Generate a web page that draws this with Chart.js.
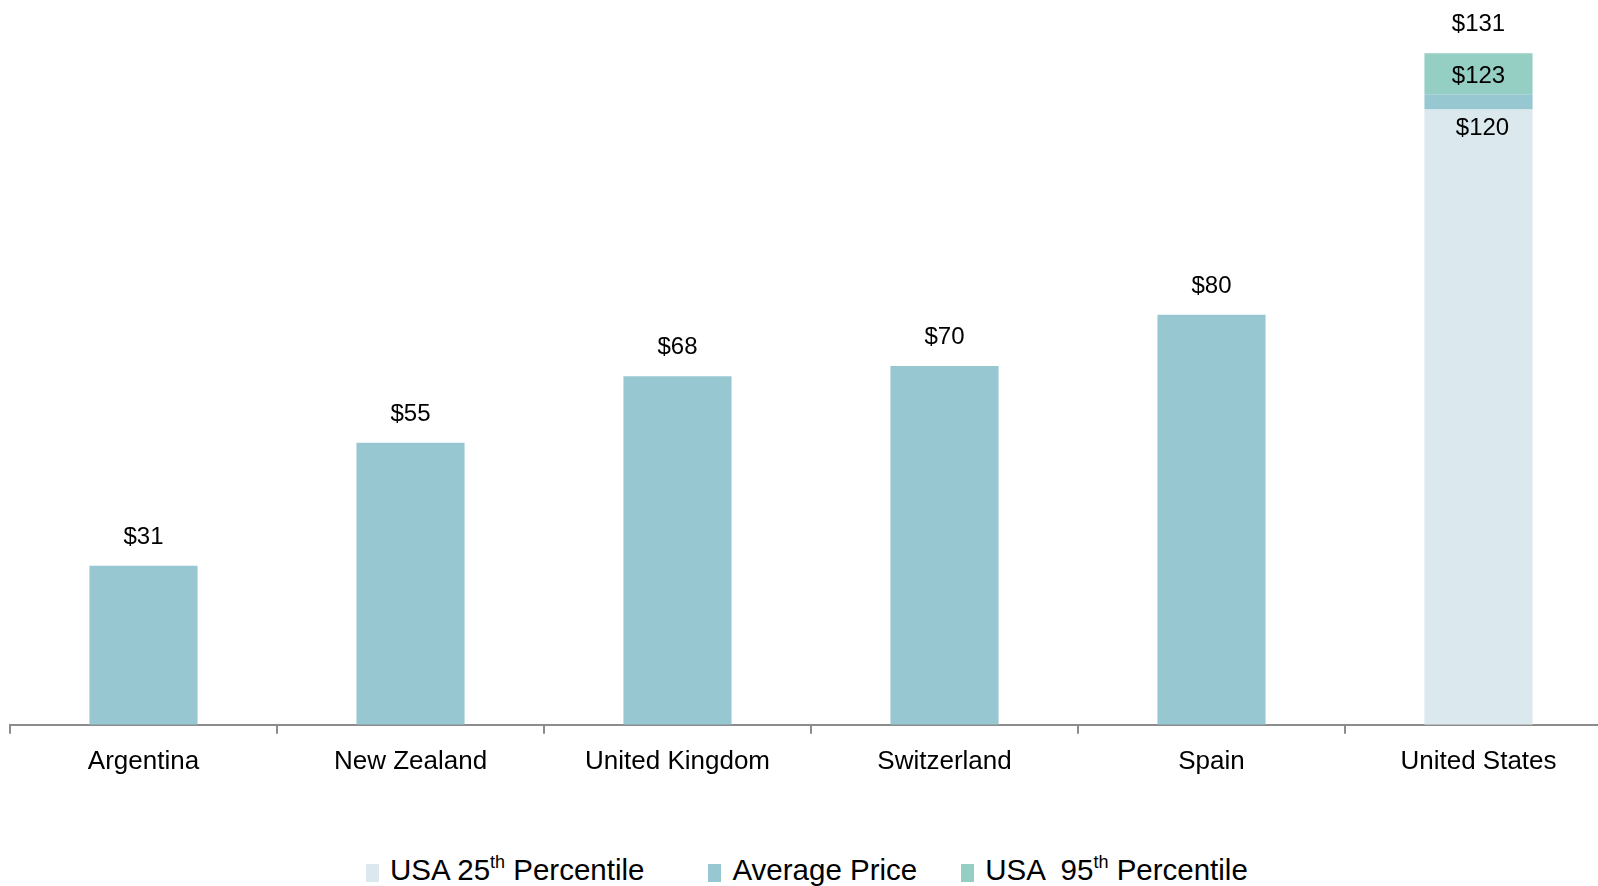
<!DOCTYPE html>
<html>
<head>
<meta charset="utf-8">
<script src="https://cdn.jsdelivr.net/npm/chart.js@4.4.0/dist/chart.umd.min.js"></script>
<style>
  html, body { margin: 0; padding: 0; background: #fff; overflow: hidden; }
  #wrap { position: relative; width: 1598px; height: 886px; overflow: hidden; }
  #box { position: absolute; left: 0; top: 0; width: 1622px; height: 800px; }
  #legend {
    position: absolute; left: 366px; top: 853px; display: flex; align-items: center;
    font-family: "Liberation Sans", Arial, sans-serif; font-size: 29.5px; color: #000; white-space: pre;
  }
  #legend .item { display: flex; align-items: center; }
  #legend .sw { width: 13px; height: 18px; margin-right: 11px; margin-top: 6px; }
  #legend sup { font-size: 18px; line-height: 0; vertical-align: 12px; }
</style>
</head>
<body>
<div id="wrap">
  <div id="box"><canvas id="chart"></canvas></div>
  <div id="legend"></div>
</div>
<script>
// DATA
const categories = ['Argentina', 'New Zealand', 'United Kingdom', 'Switzerland', 'Spain', 'United States'];
const averagePrice = [31, 55, 68, 70, 80, 123];
const usa25th = [null, null, null, null, null, 120];
const usa95th = [null, null, null, null, null, 131];
const seriesLabels = ['USA 25th Percentile', 'Average Price', 'USA  95th Percentile'];
const seriesColors = ['#dbe9ef', '#97c8d2', '#95cec2'];
const gapAfter = [64, 44, 0];

// stacked segments built from the values above
const seg25 = usa25th.map(v => v == null ? null : v);
const segAvg = averagePrice.map((v, i) => usa25th[i] == null ? v : v - usa25th[i]);
const seg95 = usa95th.map((v, i) => v == null ? null : v - averagePrice[i]);

const FONT = '"Liberation Sans", Arial, sans-serif';

// value labels
const valueLabels = {
  id: 'valueLabels',
  afterDatasetsDraw(chart) {
    const c = chart.ctx, y = chart.scales.y;
    c.save();
    c.font = '24px ' + FONT;
    c.fillStyle = '#000';
    c.textAlign = 'center';
    c.textBaseline = 'alphabetic';
    categories.forEach((cat, i) => {
      const x = chart.getDatasetMeta(1).data[i].x;
      if (usa95th[i] != null) {
        c.fillText('$' + usa95th[i], x, y.getPixelForValue(usa95th[i]) - 22);
        const mid = (y.getPixelForValue(usa95th[i]) + y.getPixelForValue(averagePrice[i])) / 2;
        c.fillText('$' + averagePrice[i], x, mid + 9);
        c.fillText('$' + usa25th[i], x + 4, y.getPixelForValue(usa25th[i]) + 25);
      } else {
        c.fillText('$' + averagePrice[i], x, y.getPixelForValue(averagePrice[i]) - 22);
      }
    });
    c.restore();
  }
};

const ds = (label, data, color) => ({
  label, data, backgroundColor: color, borderWidth: 0,
  barPercentage: 0.405, categoryPercentage: 1.0
});

new Chart(document.getElementById('chart'), {
  type: 'bar',
  data: {
    labels: categories,
    datasets: [
      ds(seriesLabels[0], seg25, seriesColors[0]),
      ds(seriesLabels[1], segAvg, seriesColors[1]),
      ds(seriesLabels[2], seg95, seriesColors[2])
    ]
  },
  options: {
    responsive: true,
    maintainAspectRatio: false,
    animation: false,
    layout: { padding: { left: 10, right: 10, top: 7, bottom: 11 } },
    plugins: { legend: { display: false }, tooltip: { enabled: false } },
    scales: {
      x: {
        stacked: true,
        offset: true,
        border: { display: true, color: '#8c8c8c', width: 2 },
        grid: { offset: true, drawOnChartArea: false, drawTicks: true, tickLength: 9, color: '#8c8c8c', lineWidth: 2 },
        ticks: { color: '#000', padding: 12, font: { family: FONT, size: 26 } }
      },
      y: { stacked: true, display: false, min: 0, max: 140 }
    }
  },
  plugins: [valueLabels]
});

// LEGEND (html, for the superscripts)
const legend = document.getElementById('legend');
seriesLabels.forEach((name, i) => {
  const item = document.createElement('div');
  item.className = 'item';
  item.style.marginRight = gapAfter[i] + 'px';
  item.innerHTML = `<span class="sw" style="background:${seriesColors[i]}"></span><span>${name.replace(/(\d)th/, '$1<sup>th</sup>')}</span>`;
  legend.appendChild(item);
});
</script>
</body>
</html>
